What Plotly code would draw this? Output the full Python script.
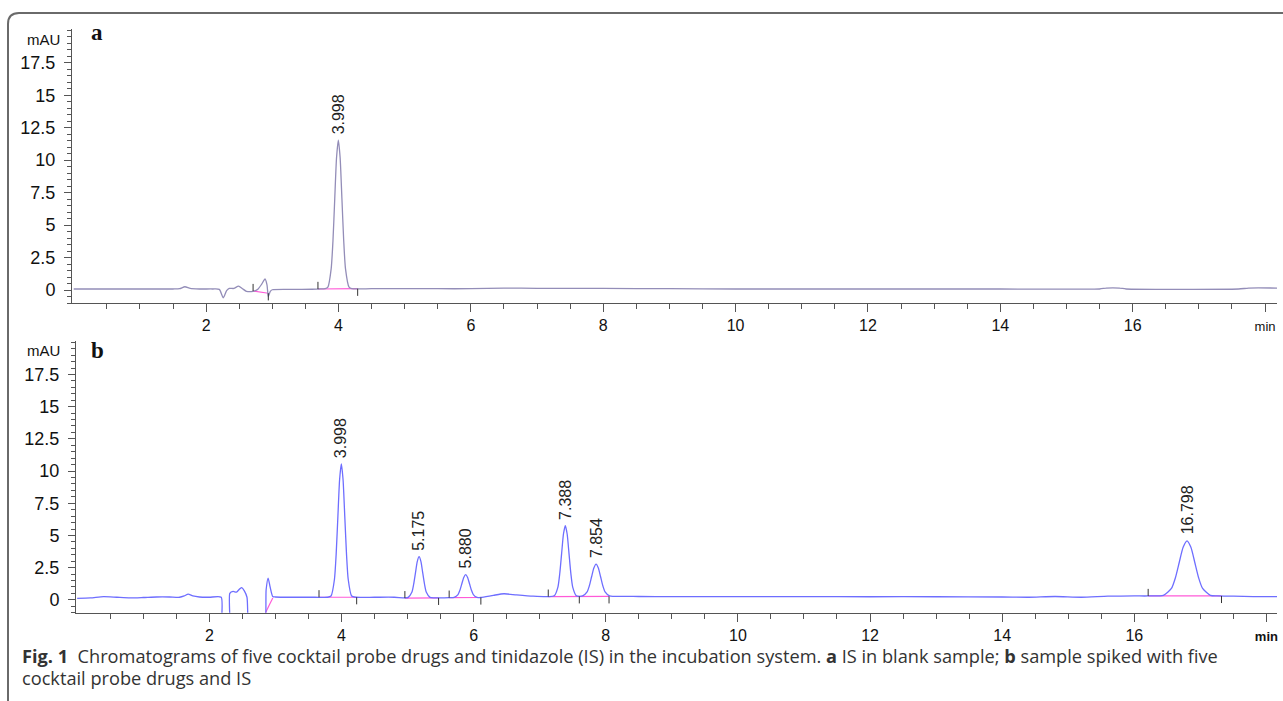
import plotly.graph_objects as go
import numpy as np

# ---------------- data ----------------
# Panel a: IS in blank sample
time_a = [0.0, 0.5, 1.0, 1.5, 1.6, 1.68, 1.76, 1.9, 2.1, 2.2, 2.26, 2.31, 2.35, 2.42, 2.49, 2.55,
          2.61, 2.71, 2.78, 2.84, 2.89, 2.92, 2.94, 2.97, 3.0, 3.3, 3.6, 3.7, 3.80, 3.84, 3.89,
          3.917, 3.944, 3.971, 3.998, 4.025, 4.052, 4.079, 4.106, 4.16, 4.20, 4.5, 5.0, 5.5, 6.0,
          6.5, 7.0, 8.0, 9.0, 10.0, 11.0, 12.0, 13.0, 14.0, 15.5, 15.6, 15.8, 15.9, 17.6, 17.75,
          18.2]
signal_a = [0.08, 0.08, 0.08, 0.08, 0.1, 0.25, 0.12, 0.08, 0.08, 0.05, -0.6, -0.05, 0.12, 0.12,
            0.3, 0.1, -0.1, -0.1, 0.05, 0.45, 0.85, 0.4, -0.5, -0.1, 0.02, 0.05, 0.06, 0.08, 0.1,
            0.22, 1.65, 3.82, 7.05, 10.2, 11.55, 10.2, 7.05, 3.82, 1.65, 0.22, 0.1, 0.1, 0.1, 0.1,
            0.1, 0.15, 0.13, 0.12, 0.1, 0.08, 0.08, 0.08, 0.08, 0.08, 0.08, 0.15, 0.15, 0.08, 0.08,
            0.15, 0.15]
peaks_a = [3.998]
peak_tops_a = [11.55]
peak_labels_a = ["3.998"]
mark_t_a = [2.71, 2.94, 3.69, 4.29]
mark_base_a = [-0.08, -0.25, 0.08, 0.1]
mark_dir_a = [1, -1, 1, -1]
base_seg_a = [[(2.71, -0.08), (2.94, -0.25)], [(3.69, 0.08), (4.29, 0.1)]]

# Panel b: sample spiked with five cocktail probe drugs and IS
time_b = [0.0, 0.2, 0.40, 0.6, 0.8, 1.0, 1.2, 1.4, 1.55, 1.62, 1.68, 1.75, 1.85, 2.0, 2.18, 2.19,
          2.30, 2.31, 2.36, 2.41, 2.46, 2.49, 2.53, 2.57, 2.62, 2.82, 2.86, 2.89, 2.92, 2.96, 3.0,
          3.3, 3.6, 3.79, 3.842, 3.894, 3.92, 3.946, 3.972, 3.998, 4.024, 4.05, 4.076, 4.102,
          4.154, 4.21, 4.5, 4.8, 4.96, 5.01, 5.065, 5.092, 5.12, 5.147, 5.175, 5.203, 5.23, 5.258,
          5.285, 5.34, 5.40, 5.5, 5.63, 5.706, 5.764, 5.793, 5.822, 5.851, 5.88, 5.909, 5.938,
          5.967, 5.996, 6.054, 6.11, 6.3, 6.46, 6.65, 6.9, 7.13, 7.22, 7.276, 7.304, 7.332, 7.36,
          7.388, 7.416, 7.444, 7.472, 7.5, 7.556, 7.60, 7.65, 7.718, 7.752, 7.786, 7.82, 7.854,
          7.888, 7.922, 7.956, 7.99, 8.058, 8.12, 8.5, 9.0, 10.0, 11.0, 12.0, 13.0, 14.0, 14.4,
          14.8, 15.2, 15.6, 16.0, 16.21, 16.44, 16.562, 16.621, 16.68, 16.739, 16.798, 16.857,
          16.916, 16.975, 17.034, 17.152, 17.25, 17.5, 17.8, 18.2]
signal_b = [0.12, 0.15, 0.25, 0.2, 0.15, 0.18, 0.22, 0.22, 0.2, 0.3, 0.44, 0.3, 0.22, 0.2, 0.2, -3,
            -3, 0.5, 0.65, 0.6, 0.85, 0.95, 0.7, 0.2, -3, -3, 0.8, 1.69, 1.0, 0.26, 0.22,
            0.2, 0.2, 0.2, 0.3, 1.60, 3.57, 6.49, 9.34, 10.56, 9.34, 6.49, 3.57, 1.60,
            0.3, 0.2, 0.2, 0.2, 0.15, 0.19, 0.58, 1.19, 2.09, 2.97, 3.35, 2.97, 2.09, 1.19,
            0.58, 0.19, 0.15, 0.15, 0.17, 0.19, 0.41, 0.75, 1.25, 1.74, 1.95, 1.74, 1.25,
            0.75, 0.41, 0.19, 0.18, 0.35, 0.47, 0.38, 0.28, 0.25, 0.31, 0.99, 2.04, 3.59, 5.11,
            5.76, 5.11, 3.59, 2.04, 0.99, 0.31, 0.27, 0.30, 0.61, 1.09, 1.79, 2.48, 2.78,
            2.48, 1.79, 1.09, 0.61, 0.30, 0.27, 0.26, 0.25, 0.25, 0.25, 0.24, 0.24, 0.22, 0.2,
            0.26, 0.2, 0.28, 0.3, 0.3, 0.35, 0.88, 1.69, 2.90, 4.08, 4.58, 4.08,
            2.90, 1.69, 0.88, 0.35, 0.3, 0.28, 0.25, 0.25]
peaks_b = [3.998, 5.175, 5.880, 7.388, 7.854, 16.798]
peak_tops_b = [10.56, 3.35, 1.95, 5.76, 2.78, 4.58]
peak_labels_b = ["3.998", "5.175", "5.880", "7.388", "7.854", "16.798"]
mark_t_b = [3.66, 4.23, 4.96, 5.47, 5.63, 6.11, 7.13, 7.60, 8.05, 16.21, 17.32]
mark_base_b = [0.2, 0.2, 0.13, 0.15, 0.17, 0.18, 0.25, 0.27, 0.27, 0.3, 0.3]
mark_dir_b = [1, -1, 1, -1, 1, -1, 1, -1, -1, 1, -1]
base_seg_b = [[(2.85, -1.0), (2.96, 0.15)], [(3.66, 0.2), (4.23, 0.2)],
              [(4.96, 0.13), (5.47, 0.15)], [(5.63, 0.17), (6.11, 0.18)],
              [(7.13, 0.25), (7.60, 0.27), (8.05, 0.27)], [(16.21, 0.3), (17.32, 0.3)]]

x_major = [2, 4, 6, 8, 10, 12, 14, 16, 18]
x_labels = ["2", "4", "6", "8", "10", "12", "14", "16", "min"]
y_major = [0, 2.5, 5, 7.5, 10, 12.5, 15, 17.5, 20]
y_labels = ["0", "2.5", "5", "7.5", "10", "12.5", "15", "17.5", ""]

# ---------------- figure ----------------
W, H = 1283, 701
AX = "#555555"
TRACE_A = "#938db8"
TRACE_B = "#6e6eff"
PINK = "#ff5ad8"

fig = go.Figure()


def add_panel(t, s, xr, yr, color, segs, mt, mb, md):
    bx, by = [], []
    for seg in segs:
        for p in seg:
            bx.append(p[0]); by.append(p[1])
        bx.append(None); by.append(None)
    fig.add_trace(go.Scatter(x=bx, y=by, mode="lines", xaxis=xr, yaxis=yr,
                             line=dict(color=PINK, width=1.2), hoverinfo="skip"))
    fig.add_trace(go.Scatter(x=t, y=s, mode="lines", xaxis=xr, yaxis=yr,
                             line=dict(color=color, width=1.3, shape="spline", smoothing=0.6)))
    tx, ty = [], []
    for ti, bi, di in zip(mt, mb, md):
        tx += [ti, ti, None]
        ty += [bi, bi + 0.55 * di, None]
    fig.add_trace(go.Scatter(x=tx, y=ty, mode="lines", xaxis=xr, yaxis=yr,
                             line=dict(color="#333333", width=1), hoverinfo="skip"))


add_panel(time_a, signal_a, "x", "y", TRACE_A, base_seg_a, mark_t_a, mark_base_a, mark_dir_a)
add_panel(time_b, signal_b, "x2", "y2", TRACE_B, base_seg_b, mark_t_b, mark_base_b, mark_dir_b)


def xaxis(dom, rng, boldmin=False):
    labels = list(x_labels)
    if boldmin:
        labels[-1] = "<b>min</b>"
    labels[-1] = "<span style='font-size:13px'>" + labels[-1] + "</span>"
    return dict(domain=dom, range=rng, showgrid=False, zeroline=False, showline=True,
                linecolor=AX, linewidth=1, ticks="outside", ticklen=8, tickcolor=AX,
                tickwidth=1, tickmode="array", tickvals=x_major, ticktext=labels,
                ticklabelstandoff=0,
                tickfont=dict(family="Liberation Sans, Arial", size=16, color="#111"),
                minor=dict(tickvals=list(np.arange(0.5, 18.1, 0.5)), ticks="outside",
                           ticklen=5, tickcolor=AX, tickwidth=1),
                fixedrange=True)


def yaxis(dom, anchor):
    return dict(domain=dom, range=[-1.0, 20.1], anchor=anchor, showgrid=False, zeroline=False,
                showline=True, linecolor=AX, linewidth=1, ticks="outside", ticklen=7,
                tickcolor=AX, tickwidth=1, tickmode="array", tickvals=y_major,
                ticktext=y_labels, ticklabelstandoff=5,
                tickfont=dict(family="Liberation Sans, Arial", size=18, color="#111"),
                minor=dict(tickvals=list(np.arange(-1.0, 20.1, 0.5)), ticks="outside",
                           ticklen=4, tickcolor=AX, tickwidth=1),
                fixedrange=True)


fig.update_layout(
    width=W, height=H, margin=dict(l=0, r=0, t=0, b=0),
    paper_bgcolor="white", plot_bgcolor="white", showlegend=False,
    xaxis=dict(anchor="y", **xaxis([72 / W, 1277 / W], [-0.026, 18.18])),
    yaxis=yaxis([1 - 303 / H, 1 - 29 / H], "x"),
    xaxis2=dict(anchor="y2", **xaxis([76 / W, 1277 / W], [-0.018, 18.16], boldmin=True)),
    yaxis2=yaxis([1 - 612.7 / H, 1 - 341 / H], "x2"),
)

ann = []
for xr, yr, pk, tops, labs in [("x", "y", peaks_a, peak_tops_a, peak_labels_a),
                               ("x2", "y2", peaks_b, peak_tops_b, peak_labels_b)]:
    for p, tp, lb in zip(pk, tops, labs):
        ann.append(dict(x=p, y=tp, xref=xr, yref=yr, text=lb, showarrow=False,
                        textangle=-90, xanchor="center", yanchor="bottom", yshift=4,
                        font=dict(family="Liberation Sans, Arial", size=16, color="#222")))
for yr, yv in [("y", 19.3), ("y2", 19.35)]:
    ann.append(dict(x=62 / W, y=yv, xref="paper", yref=yr, text="mAU", showarrow=False,
                    xanchor="right", yanchor="middle",
                    font=dict(family="Liberation Sans, Arial", size=15, color="#111")))
ann.append(dict(x=97 / W, y=1 - 33 / H, xref="paper", yref="paper", text="<b>a</b>",
                showarrow=False, xanchor="center", yanchor="middle",
                font=dict(family="Liberation Serif, Times New Roman", size=23, color="#111")))
ann.append(dict(x=97 / W, y=1 - 351 / H, xref="paper", yref="paper", text="<b>b</b>",
                showarrow=False, xanchor="center", yanchor="middle",
                font=dict(family="Liberation Serif, Times New Roman", size=23, color="#111")))
cap1 = ("<b>Fig. 1</b>  Chromatograms of five cocktail probe drugs and tinidazole (IS) in the "
        "incubation system. <b>a</b> IS in blank sample; <b>b</b> sample spiked with five")
cap2 = "cocktail probe drugs and IS"
for txt, yy in [(cap1, 656), (cap2, 678)]:
    ann.append(dict(x=20 / W, y=1 - yy / H, xref="paper", yref="paper", text=txt,
                    showarrow=False, xanchor="left", yanchor="middle",
                    font=dict(family="Open Sans", size=18.2, color="#333")))
fig.update_layout(annotations=ann)

fig.add_shape(type="path", xref="paper", yref="paper",
              path=f"M {8/W},0 L {8/W},{1-24/H} Q {8/W},{1-13/H} {19/W},{1-13/H} L 1,{1-13/H}",
              line=dict(color="#6a6a6a", width=2))

fig.write_html("out.html")
